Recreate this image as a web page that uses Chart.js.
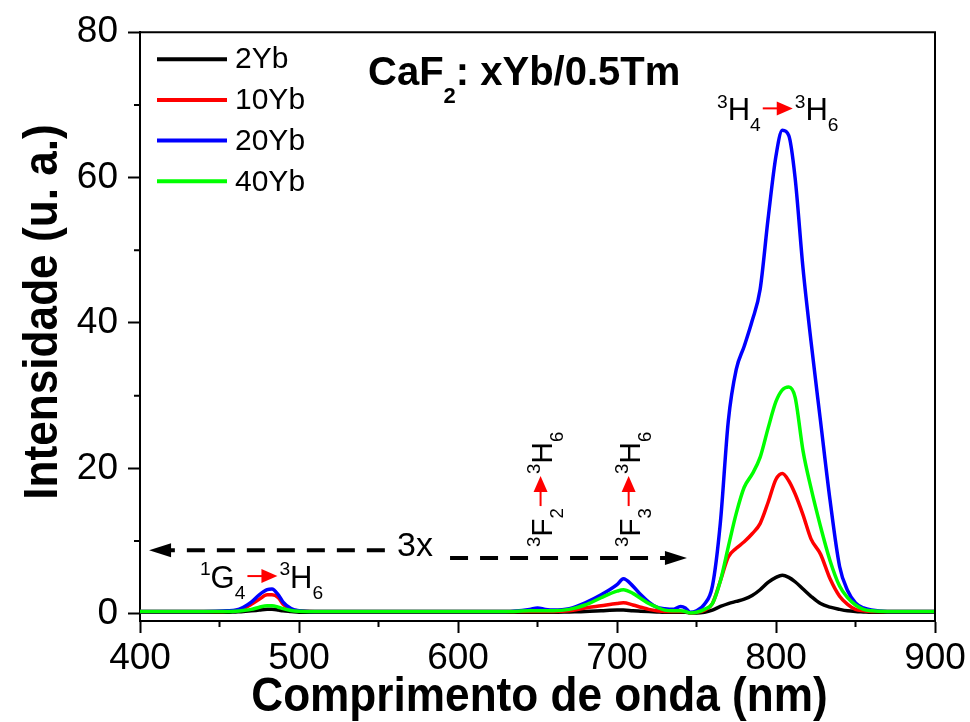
<!DOCTYPE html>
<html>
<head>
<meta charset="utf-8">
<script src="https://cdn.jsdelivr.net/npm/chart.js@4"></script>
<style>
  html, body { margin: 0; padding: 0; background: #fff; }
</style>
</head>
<body>
<canvas id="spectra" width="970" height="722"></canvas>
<script>
// comprimentos de onda (nm)
const wavelength = [400, 420, 440, 455, 460, 465, 470, 475, 480, 483, 487, 490, 495, 500, 510, 540, 570, 600, 630, 645,
  650, 655, 660, 670, 680, 690, 700, 704, 710, 715, 720, 725, 730, 735, 740, 743, 746, 750, 755, 760,
  765, 770, 775, 780, 785, 790, 795, 800, 804, 808, 812, 817, 822, 828, 834, 840, 845, 850, 855, 860,
  870, 880, 900];

const yb2 = [0.2, 0.2, 0.2, 0.2, 0.25, 0.3, 0.4, 0.5, 0.6, 0.6, 0.5, 0.4, 0.3, 0.2, 0.2, 0.2, 0.2, 0.2, 0.2, 0.2,
  0.2, 0.2, 0.2, 0.25, 0.3, 0.4, 0.5, 0.5, 0.4, 0.35, 0.3, 0.25, 0.2, 0.2, 0.2, 0.2, 0.1, 0.1, 0.2, 0.5,
  1.0, 1.4, 1.7, 2.0, 2.5, 3.3, 4.3, 5.0, 5.3, 5.0, 4.4, 3.4, 2.4, 1.4, 0.9, 0.6, 0.4, 0.3, 0.25, 0.2,
  0.2, 0.2, 0.2];

const yb10 = [0.3, 0.3, 0.3, 0.35, 0.45, 0.7, 1.3, 2.0, 2.6, 2.6, 2.2, 1.3, 0.6, 0.4, 0.3, 0.3, 0.3, 0.3, 0.3, 0.3,
  0.3, 0.3, 0.3, 0.4, 0.8, 1.1, 1.4, 1.5, 1.2, 0.9, 0.6, 0.4, 0.3, 0.3, 0.3, 0.3, 0.1, 0.2, 0.5, 1.4,
  4.5, 7.8, 9.0, 9.9, 11.0, 12.4, 15.3, 18.5, 19.3, 18.3, 16.5, 13.6, 10.3, 8.2, 4.8, 2.4, 1.3, 0.6, 0.4, 0.3,
  0.3, 0.3, 0.3];

const yb20 = [0.3, 0.3, 0.3, 0.4, 0.5, 0.9, 1.6, 2.6, 3.3, 3.4, 2.6, 1.6, 0.7, 0.4, 0.3, 0.3, 0.3, 0.3, 0.3, 0.6,
  0.8, 0.6, 0.5, 0.7, 1.5, 2.6, 4.0, 4.8, 3.8, 2.6, 1.6, 0.9, 0.7, 0.6, 1.0, 0.8, 0.2, 0.4, 1.3, 3.8,
  12.5, 26.5, 33.6, 36.8, 40.3, 44.6, 54.3, 63.0, 66.5, 65.8, 60.0, 47.5, 37.5, 26.5, 15.6, 6.5, 3.2, 1.5, 0.8, 0.5,
  0.3, 0.3, 0.3];

const yb40 = [0.3, 0.3, 0.3, 0.3, 0.35, 0.45, 0.6, 0.9, 1.1, 1.1, 0.9, 0.7, 0.45, 0.35, 0.3, 0.3, 0.3, 0.3, 0.3, 0.4,
  0.4, 0.4, 0.4, 0.6, 1.2, 2.2, 3.1, 3.3, 2.8, 2.1, 1.4, 0.9, 0.5, 0.4, 0.4, 0.3, 0.1, 0.2, 0.6, 1.4,
  4.5, 9.2, 13.8, 17.4, 19.2, 21.5, 25.5, 29.2, 30.8, 31.2, 29.8, 22.4, 17.3, 12.0, 7.3, 3.8, 2.2, 1.2, 0.6, 0.4,
  0.3, 0.3, 0.3];

const seriesLabels = ['2Yb', '10Yb', '20Yb', '40Yb'];
const seriesColors = ['#000000', '#ff0000', '#0000ff', '#00ff00'];
const seriesValues = [yb2, yb10, yb20, yb40];

const xTicks = [400, 500, 600, 700, 800, 900];
const yTicks = [0, 20, 40, 60, 80];

const FONT = '"Liberation Sans", Arial, sans-serif';

// texto com sobrescrito/subscrito e seta vermelha
function richText(ctx, x, y, parts, size, rotated, subScale, subShift) {
  subScale = subScale || 0.62;
  subShift = subShift || 0.36;
  ctx.save();
  ctx.translate(x, y);
  if (rotated) ctx.rotate(-Math.PI / 2);
  ctx.textBaseline = 'alphabetic';
  ctx.textAlign = 'left';
  let cx = 0;
  parts.forEach(p => {
    if (p === 'arrow') {
      const a = cx + 2, b = cx + 32, ay = -size * 0.38;
      ctx.strokeStyle = '#ff0000';
      ctx.fillStyle = '#ff0000';
      ctx.lineWidth = 2;
      ctx.beginPath();
      ctx.moveTo(a, ay);
      ctx.lineTo(b - 14, ay);
      ctx.stroke();
      ctx.beginPath();
      ctx.moveTo(b, ay);
      ctx.lineTo(b - 16, ay - 7);
      ctx.lineTo(b - 16, ay + 7);
      ctx.closePath();
      ctx.fill();
      cx += 34;
      return;
    }
    const txt = p[0], kind = p[1];
    let fs = size, dy = 0;
    if (kind === 'sup') { fs = size * 0.62; dy = -size * 0.4; }
    if (kind === 'sub') { fs = size * subScale; dy = size * subShift; }
    ctx.font = (p[2] || '') + ' ' + fs + 'px ' + FONT;
    ctx.fillStyle = '#000';
    ctx.fillText(txt, cx, dy);
    cx += ctx.measureText(txt).width;
  });
  ctx.restore();
}

function dashedArrow(ctx, tipX, endX, y) {
  const dir = endX > tipX ? 1 : -1;
  ctx.save();
  ctx.strokeStyle = '#000';
  ctx.fillStyle = '#000';
  ctx.lineWidth = 4;
  ctx.setLineDash([18, 12]);
  ctx.beginPath();
  ctx.moveTo(endX, y);
  ctx.lineTo(tipX + dir * 20, y);
  ctx.stroke();
  ctx.setLineDash([]);
  ctx.beginPath();
  ctx.moveTo(tipX, y);
  ctx.lineTo(tipX + dir * 22, y - 7);
  ctx.lineTo(tipX + dir * 22, y + 7);
  ctx.closePath();
  ctx.fill();
  ctx.restore();
}

const decorPlugin = {
  id: 'decor',
  afterDraw(chart) {
    const ctx = chart.ctx;
    const a = chart.chartArea;
    const xs = chart.scales.x, ys = chart.scales.y;
    const X = v => xs.getPixelForValue(v);
    const Y = v => ys.getPixelForValue(v);

    ctx.save();
    // moldura superior e direita
    ctx.strokeStyle = '#000';
    ctx.lineWidth = 2;
    ctx.beginPath();
    ctx.moveTo(a.left, a.top);
    ctx.lineTo(a.right, a.top);
    ctx.lineTo(a.right, a.bottom);
    ctx.stroke();

    // ticks menores
    ctx.beginPath();
    for (let v = 450; v < 900; v += 100) {
      ctx.moveTo(X(v), a.bottom);
      ctx.lineTo(X(v), a.bottom + 6);
    }
    for (let v = 10; v < 80; v += 20) {
      ctx.moveTo(a.left, Y(v));
      ctx.lineTo(a.left - 6, Y(v));
    }
    ctx.stroke();

    // legenda
    ctx.font = '30px ' + FONT;
    ctx.textBaseline = 'middle';
    ctx.textAlign = 'left';
    chart.data.datasets.forEach((ds, i) => {
      const ly = a.top + 27 + i * 40.7;
      ctx.strokeStyle = ds.borderColor;
      ctx.lineWidth = 4;
      ctx.beginPath();
      ctx.moveTo(a.left + 17, ly);
      ctx.lineTo(a.left + 87, ly);
      ctx.stroke();
      ctx.fillStyle = '#000';
      ctx.fillText(ds.label, a.left + 95, ly + 1);
    });

    // titulo interno
    richText(ctx, X(543.4), Y(72.8), [['CaF', '', 'bold'], ['2', 'sub', 'bold'], [': xYb/0.5Tm', '', 'bold']], 40, false, 0.55, 0.45);

    // transicoes
    richText(ctx, X(762.9), Y(67.9), [['3', 'sup'], ['H'], ['4', 'sub'], 'arrow', ['3', 'sup'], ['H'], ['6', 'sub']], 31, false);
    richText(ctx, X(437.7), Y(3.56), [['1', 'sup'], ['G'], ['4', 'sub'], 'arrow', ['3', 'sup'], ['H'], ['6', 'sub']], 31, false);
    richText(ctx, X(659.1), Y(9.17), [['3', 'sup'], ['F'], ['2', 'sub'], 'arrow', ['3', 'sup'], ['H'], ['6', 'sub']], 30, true);
    richText(ctx, X(714.5), Y(9.17), [['3', 'sup'], ['F'], ['3', 'sub'], 'arrow', ['3', 'sup'], ['H'], ['6', 'sub']], 30, true);

    // seta tracejada "3x"
    dashedArrow(ctx, X(405.7), X(554), Y(8.75));
    dashedArrow(ctx, X(744), X(595), Y(7.66));
    ctx.font = '34px ' + FONT;
    ctx.fillStyle = '#000';
    ctx.textAlign = 'center';
    ctx.textBaseline = 'middle';
    ctx.fillText('3x', X(573), Y(9.3));

    // titulos dos eixos
    ctx.font = 'bold 48px ' + FONT;
    ctx.textBaseline = 'alphabetic';
    ctx.save();
    ctx.translate((a.left + a.right) / 2 + 2, 711);
    ctx.scale(0.92, 1);
    ctx.fillText('Comprimento de onda (nm)', 0, 0);
    ctx.restore();
    ctx.save();
    ctx.translate(57, 312);
    ctx.rotate(-Math.PI / 2);
    ctx.scale(0.92, 1);
    ctx.fillText('Intensidade (u. a.)', 0, 0);
    ctx.restore();
    ctx.restore();
  }
};

const axisCommon = {
  type: 'linear',
  grid: { display: true, drawOnChartArea: false, drawTicks: true, tickLength: 12, tickWidth: 2, tickColor: '#000' },
  border: { display: true, color: '#000', width: 2 }
};

new Chart(document.getElementById('spectra'), {
  type: 'line',
  data: {
    datasets: seriesValues.map((vals, i) => ({
      label: seriesLabels[i],
      data: wavelength.map((w, j) => ({ x: w, y: vals[j] })),
      borderColor: seriesColors[i],
      borderWidth: 3.5,
      pointRadius: 0,
      fill: false,
      cubicInterpolationMode: 'monotone',
      order: 4 - i
    }))
  },
  options: {
    responsive: false,
    animation: false,
    layout: { padding: { left: 0, right: 35, top: 29, bottom: 0 } },
    plugins: { legend: { display: false }, title: { display: false }, tooltip: { enabled: false } },
    scales: {
      x: Object.assign({}, axisCommon, {
        min: 400, max: 900,
        ticks: { color: '#000', font: { family: FONT, size: 37 }, padding: 4, maxRotation: 0, autoSkip: false },
        afterBuildTicks: s => { s.ticks = xTicks.map(v => ({ value: v })); },
        afterFit: s => { s.height = 101; }
      }),
      y: Object.assign({}, axisCommon, {
        min: -1, max: 80,
        ticks: { color: '#000', font: { family: FONT, size: 37 }, padding: 10, autoSkip: false },
        afterBuildTicks: s => { s.ticks = yTicks.map(v => ({ value: v })); },
        afterFit: s => { s.width = 140; }
      })
    }
  },
  plugins: [decorPlugin]
});
</script>
</body>
</html>
